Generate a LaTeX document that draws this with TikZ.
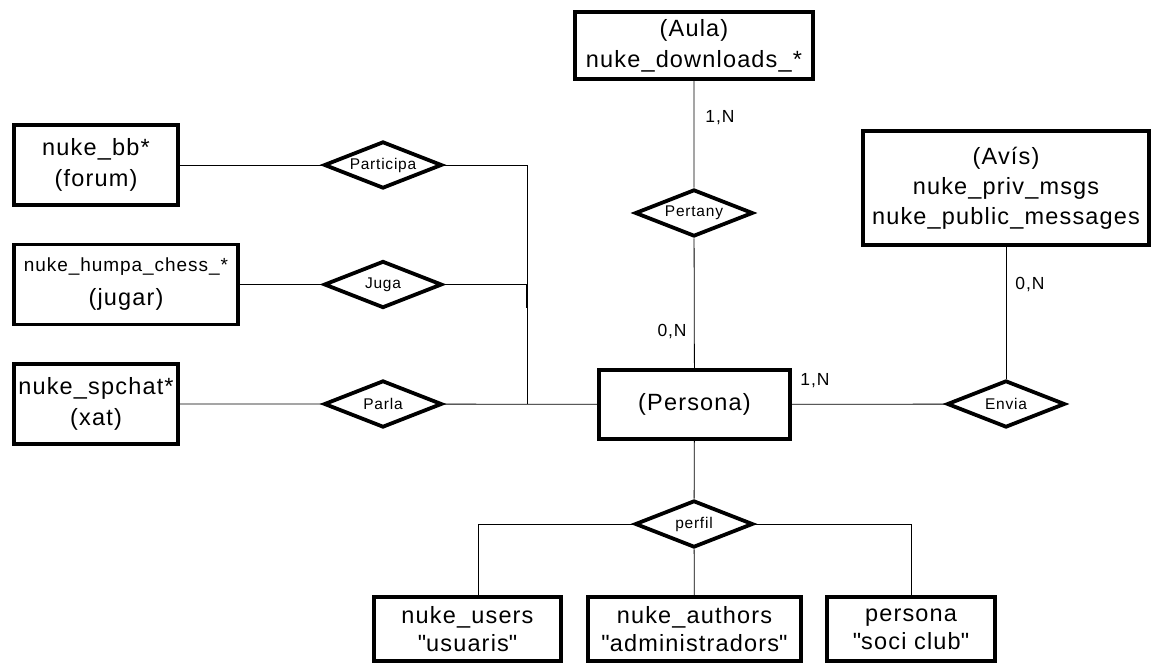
\documentclass[tikz,border=0pt]{standalone}
\usepackage{fontspec}
\setmainfont[LetterSpace=5]{Liberation Sans}
\usetikzlibrary{shapes.geometric}

\tikzset{
  entitat/.style={draw, line width=3.8pt, inner sep=0pt, align=center,
    font=\fontsize{23.5}{31}\selectfont},
  relacio/.style={draw, diamond, aspect=2.5, line width=3.8pt, inner sep=0pt,
    minimum width=118pt, minimum height=47pt, font=\fontsize{15.5}{18}\selectfont},
  card/.style={inner sep=0pt, font=\fontsize{17.5}{20}\selectfont}
}

\begin{document}
\begin{tikzpicture}[x=1pt, y=-1pt, line width=0.8pt]
\useasboundingbox (0,0) rectangle (1154,668);
\node[entitat, minimum width=238pt, minimum height=67pt] (aula) at (694,45.5) {(Aula)\\nuke\_downloads\_*};
\node[entitat, minimum width=286pt, minimum height=114pt] (avis) at (1006,188) {(Avís)\\[-1pt]nuke\_priv\_msgs\\[-1pt]nuke\_public\_messages};
\node[entitat, minimum width=191pt, minimum height=69pt] (persona) at (694.5,404.5) {(Persona)};
\node[entitat, minimum width=164pt, minimum height=80pt] (bb) at (96,165) {nuke\_bb*\\(forum)};
\node[entitat, minimum width=224pt, minimum height=80pt] (humpa) at (126,284.5) {{\fontsize{19}{22}\selectfont nuke\_humpa\_chess\_*}\\[3pt](jugar)};
\node[entitat, minimum width=164pt, minimum height=80pt] (spchat) at (96,404) {nuke\_spchat*\\(xat)};
\node[entitat, minimum width=187pt, minimum height=64pt] (users) at (467.5,629) {nuke\_users\\[-3pt]\textquotedbl usuaris\textquotedbl};
\node[entitat, minimum width=213pt, minimum height=64pt] (authors) at (694.5,629) {nuke\_authors\\[-3pt]\textquotedbl administradors\textquotedbl};
\node[entitat, minimum width=168pt, minimum height=64pt] (socis) at (911,629) {persona\\[-3pt]\textquotedbl soci club\textquotedbl};

\foreach \nom/\txt/\x/\y in {participa/Participa/383/165, juga/Juga/383/284.5, parla/Parla/383/404,
  pertany/Pertany/694/213, envia/Envia/1006/404, perfil/perfil/694/524}
  \node[relacio, fill=white] (\nom) at (\x,\y) {\txt};

\coordinate (bus) at (527,404);
\draw (aula) -- (pertany) -- (persona);
\draw (avis) -- (envia);
\draw (persona) -- (envia);
\draw (bb) -- (participa);
\draw (humpa) -- (juga);
\draw (spchat) -- (parla) -- (persona);
\draw (participa.east) -| (bus);
\draw (juga.east) -- (juga.east -| bus);
\draw[line width=2pt] (juga.east -| bus) -- ++(0,24);
\draw (persona) -- (perfil) -- (authors);
\draw (perfil.west) -| ([xshift=11pt]users.north);
\draw (perfil.east) -| (socis.north);

\node[card, anchor=west] (c1) at (705,118) {1,N};
\node[card, anchor=east] (c2) at (687,332) {0,N};
\node[card, anchor=west] (c3) at (800,381) {1,N};
\node[card, anchor=west] (c4) at (1015,285) {0,N};
\end{tikzpicture}
\end{document}
